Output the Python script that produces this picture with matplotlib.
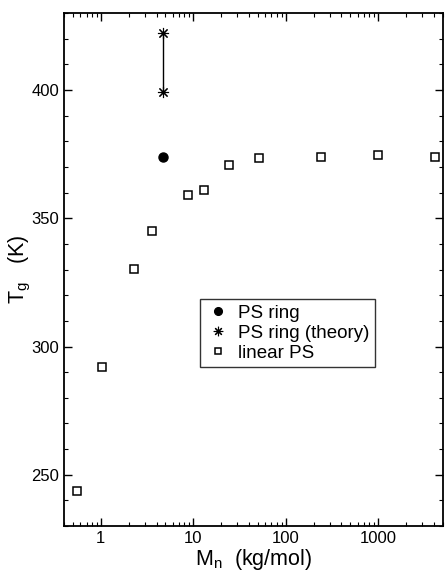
import matplotlib
matplotlib.use('Agg')
from matplotlib import pyplot as plt
from matplotlib.ticker import LogLocator, NullFormatter, MultipleLocator

plt.rcParams['font.family'] = ['Liberation Sans', 'DejaVu Sans']

# data
ring_mn = [4.7]
ring_tg = [374]
theory_mn = [4.7, 4.7]
theory_tg = [399.3, 422.3]
linear_mn = [0.55, 1.02, 2.3, 3.58, 8.8, 13.2, 24.2, 51, 242, 990, 4170]
linear_tg = [243.8, 292, 330.3, 345.2, 359.1, 361.1, 370.8, 373.7, 373.8, 374.6, 374]

fig = plt.figure(figsize=(4.45, 5.73), dpi=100)
ax = fig.add_axes([0.144, 0.082, 0.851, 0.895])

ax.plot(theory_mn, theory_tg, color='black', lw=1)
ax.plot(ring_mn, ring_tg, 'o', color='black', ms=6.5, label='PS ring')
ax.plot(theory_mn, theory_tg, ls='none', marker=(8, 2, 0), color='black',
        ms=8, mew=0.8, label='PS ring (theory)')
ax.plot(linear_mn, linear_tg, 's', mfc='white', mec='black', ms=5.8,
        mew=1.1, label='linear PS')

ax.set_xscale('log')
ax.set_xlim(0.4, 5000)
ax.set_ylim(230, 430)
ax.set_xticks([1, 10, 100, 1000])
ax.set_xticklabels(['1', '10', '100', '1000'])
ax.xaxis.set_minor_locator(LogLocator(base=10, subs=range(2, 10), numticks=20))
ax.xaxis.set_minor_formatter(NullFormatter())
ax.set_yticks([250, 300, 350, 400])
ax.yaxis.set_minor_locator(MultipleLocator(10))

ax.tick_params(which='both', direction='in', top=True, right=True, labelsize=12)
ax.tick_params(which='major', length=6, width=1)
ax.tick_params(which='minor', length=3, width=0.8)
for s in ax.spines.values():
    s.set_linewidth(1.3)

ax.set_xlabel(r'M$_\mathregular{n}$  (kg/mol)', fontsize=15.5, labelpad=1)
ax.set_ylabel(r'T$_\mathregular{g}$   (K)', fontsize=15.5)
ax.yaxis.set_label_coords(-0.082, 0.5)

leg = ax.legend(loc='upper left', bbox_to_anchor=(0.359, 0.4425),
                borderaxespad=0, fontsize=13.5, markerscale=0.85,
                frameon=True, fancybox=False, edgecolor='black',
                handletextpad=0.4, borderpad=0.3, labelspacing=0.15,
                handlelength=1.3)
leg.get_frame().set_linewidth(1.0)

plt.savefig('out.png', dpi=100)
